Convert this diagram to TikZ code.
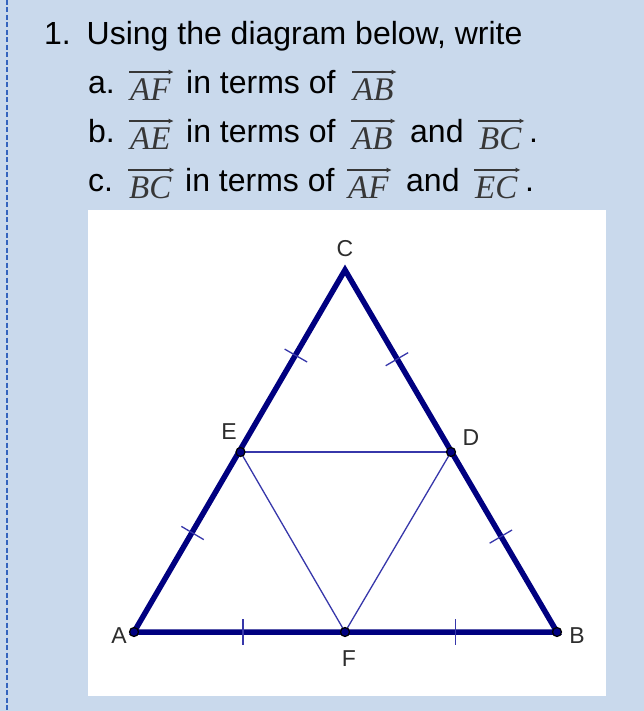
\documentclass[tikz,border=0pt]{standalone}
\usepackage{fontspec}
\setmainfont{Liberation Sans}
\newfontfamily\vecfont{Liberation Serif Italic}
\usetikzlibrary{calc,arrows.meta}
\definecolor{bgblue}{RGB}{201,217,236}
\definecolor{dashblue}{RGB}{52,100,190}
\definecolor{triblue}{RGB}{0,0,128}
\definecolor{thinblue}{RGB}{55,55,170}
\definecolor{labgray}{RGB}{45,45,45}
\definecolor{vecgray}{RGB}{55,55,55}
\newcommand\tickmark[3]{\draw[tickln] ($(#1)!#3!(#2)!13pt!90:(#2)$) -- ($(#1)!#3!(#2)!13pt!270:(#2)$);}
\tikzset{
  txt/.style={anchor=base west, inner sep=0pt, font=\fontsize{32}{38}\selectfont, text=black},
  vec/.style={anchor=base west, inner sep=0pt, font=\fontsize{33}{39}\selectfont\vecfont, text=vecgray},
  varrow/.style={draw=vecgray, line width=1.4pt, -{Latex[length=5pt,width=5pt]}},
  side/.style={draw=triblue, line width=5.5pt, line join=miter},
  thin/.style={draw=thinblue, line width=1.3pt},
  tickln/.style={draw=thinblue, line width=1.3pt},
  pt/.style={circle, fill=triblue, draw=black, line width=1.2pt, minimum size=9pt, inner sep=0pt},
  lab/.style={inner sep=0pt, font=\fontsize{23}{27}\selectfont, text=labgray},
}
\begin{document}
\begin{tikzpicture}[x=1pt,y=-1pt]
\useasboundingbox (0,0) rectangle (644,711);
\fill[bgblue] (0,0) rectangle (644,711);
\coordinate (dtop) at (7,0);
\coordinate (dbot) at (7,711);
\draw[dashblue, line width=2pt, dash pattern=on 5pt off 2.5pt] (dtop) -- (dbot);
\fill[white] (88,210) rectangle (606,696);

% text
\node[txt] (n1) at (44,45) {1.};
\node[txt] (l1) at (86.5,45) {Using the diagram below, write};

\node[txt] (la) at (88,94) {a.};
\node[vec] (va1) at (130,101) {AF};
\node[txt] (ta1) at (186,94) {in terms of};
\node[vec] (va2) at (353,101) {AB};

\node[txt] (lb) at (88,143) {b.};
\node[vec] (vb1) at (130,150) {AE};
\node[txt] (tb1) at (186,143) {in terms of};
\node[vec] (vb2) at (352,150) {AB};
\node[txt] (tb2) at (410,143) {and};
\node[vec] (vb3) at (479,150) {BC};
\node[txt] (tb3) at (529,143) {.};

\node[txt] (lc) at (88,192) {c.};
\node[vec] (vc1) at (129,199) {BC};
\node[txt] (tc1) at (185,192) {in terms of};
\node[vec] (vc2) at (348,199) {AF};
\node[txt] (tc2) at (406,192) {and};
\node[vec] (vc3) at (475,199) {EC};
\node[txt] (tc3) at (525,192) {.};

\foreach \v in {va1,va2,vb1,vb2,vb3,vc1,vc2,vc3}{
  \draw[varrow] ([xshift=-1pt,yshift=7pt]\v.north west) -- ([xshift=3pt,yshift=7pt]\v.north east);
}

% diagram
\coordinate (A) at (134,632);
\coordinate (B) at (557,632);
\coordinate (C) at (345,270);
\coordinate (E) at (240.5,452);
\coordinate (D) at (451,452);
\coordinate (F) at (345,632);

\draw[thin] (E) -- (D);
\draw[thin] (E) -- (F) -- (D);
\draw[side] (A) -- (B) -- (C) -- cycle;

\tickmark{A}{F}{0.517}
\tickmark{F}{B}{0.52}
\tickmark{A}{E}{0.55}
\tickmark{E}{C}{0.53}
\tickmark{C}{D}{0.49}
\tickmark{D}{B}{0.47}

\node[pt] (pA) at (A) {};
\node[pt] (pB) at (B) {};
\node[pt] (pE) at (E) {};
\node[pt] (pD) at (D) {};
\node[pt] (pF) at (F) {};

\node[lab] (lC) at (345,249) {C};
\node[lab] (lD) at (471,438) {D};
\node[lab] (lE) at (229,432) {E};
\node[lab] (lA) at (119,636) {A};
\node[lab] (lB) at (577,636) {B};
\node[lab] (lF) at (349,659) {F};
\end{tikzpicture}
\end{document}
